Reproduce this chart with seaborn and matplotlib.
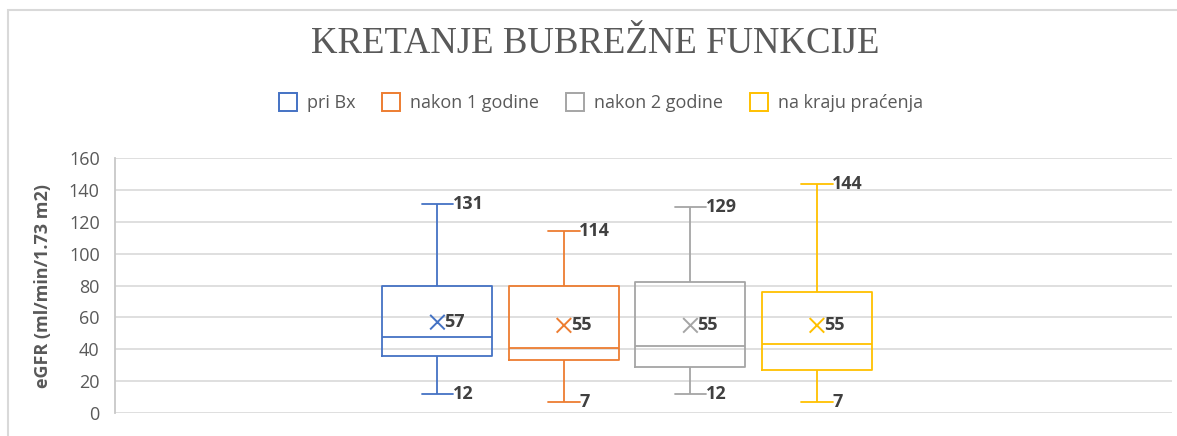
import pandas as pd
import numpy as np
import matplotlib.pyplot as plt
import seaborn as sns
from matplotlib.lines import Line2D
from matplotlib.patches import Rectangle

# podaci (procjena s grafikona)
serije = ["pri Bx", "nakon 1 godine", "nakon 2 godine", "na kraju praćenja"]
minimum = [12, 7, 12, 7]
q1 = [36, 33, 29, 27]
medijan = [48, 41, 42, 43]
q3 = [80, 80, 82, 76]
maksimum = [131, 114, 129, 144]
prosjek = [57, 55, 55, 55]
boje = ["#4472C4", "#ED7D31", "#A5A5A5", "#FFC000"]

# long table from the five-number summaries
rows = []
for i, s in enumerate(serije):
    for v in (minimum[i], q1[i], medijan[i], q3[i], maksimum[i]):
        rows.append({"serija": s, "eGFR": v})
df = pd.DataFrame(rows)

sns.set_theme(style="white")
plt.rcParams["font.family"] = ["Open Sans", "DejaVu Sans"]

fig = plt.figure(figsize=(11.77, 4.36), dpi=100)
ax = fig.add_axes([115 / 1177, 1 - 413 / 436, (1172 - 115) / 1177, (413 - 158) / 436])

sns.boxplot(data=df, x="serija", y="eGFR", hue="serija", order=serije,
            hue_order=serije, palette=boje, fill=False, width=0.87,
            whis=(0, 100), linewidth=1.3, showfliers=False, legend=False,
            capwidths=0.25, ax=ax)

# mean markers
pos = np.arange(len(serije))
ax.scatter(pos, prosjek, marker="x", s=110, c=boje, linewidths=1.4, zorder=5)

lbl = dict(fontsize=13, fontweight="bold", color="#404040", va="center", ha="left")
for i in range(len(serije)):
    ax.annotate(str(prosjek[i]), (pos[i], prosjek[i]), xytext=(5, 0),
                textcoords="offset points", **lbl)
    ax.annotate(str(maksimum[i]), (pos[i], maksimum[i]), xytext=(11, 0),
                textcoords="offset points", **lbl)
    ax.annotate(str(minimum[i]), (pos[i], minimum[i]), xytext=(11, 0),
                textcoords="offset points", **lbl)

ax.set_xlim(-2.549, 5.807)
ax.set_ylim(0, 160)
ax.set_yticks(range(0, 161, 20))
ax.set_xticks([])
ax.set_xlabel("")
ax.set_ylabel("eGFR (ml/min/1.73 m2)", fontsize=13, fontweight="bold",
              color="#595959", labelpad=12)
ax.tick_params(axis="y", length=0, pad=11, labelsize=13, labelcolor="#595959")
ax.yaxis.grid(True, color="#D9D9D9", linewidth=1.2)
ax.set_axisbelow(True)
for side in ["top", "right", "bottom"]:
    ax.spines[side].set_visible(False)
ax.spines["left"].set_color("#C8C8C8")
ax.spines["left"].set_linewidth(1.3)

fig.text(595 / 1177, 1 - 44 / 436, "KRETANJE BUBREŽNE FUNKCIJE",
         fontsize=26.5, color="#595959", ha="center", va="center",
         family=["Liberation Serif", "DejaVu Serif"])

handles = [Line2D([], [], marker="s", linestyle="none", markersize=13,
                  markerfacecolor="none", markeredgecolor=c, markeredgewidth=1.4)
           for c in boje]
fig.legend(handles, serije, loc="center", ncol=4, frameon=False,
           bbox_to_anchor=(601 / 1177, 1 - 103 / 436), fontsize=13,
           labelcolor="#595959", handletextpad=0.55, columnspacing=1.5,
           handlelength=1.0)

# chart border
fig.add_artist(Rectangle((8 / 1177, -0.1), 1.2, 1.1 - 10 / 436,
                         transform=fig.transFigure, fill=False,
                         edgecolor="#D9D9D9", linewidth=1.5))

fig.savefig("out.png", dpi=100)
